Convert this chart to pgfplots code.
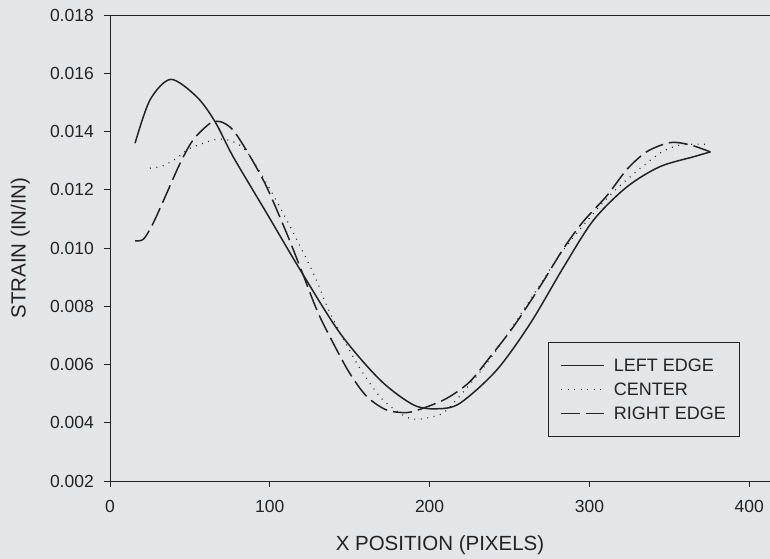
\documentclass[border=0pt]{standalone}
\usepackage{pgfplots}
\pgfplotsset{compat=1.18}
\usepackage{fontspec}
\setmainfont{Liberation Sans}
\usetikzlibrary{backgrounds}
\definecolor{bgcol}{RGB}{227,230,233}
\definecolor{ink}{RGB}{35,35,35}
\begin{document}
\begin{tikzpicture}[background rectangle/.style={fill=bgcol,draw=none}, show background rectangle, inner frame sep=0pt]
\begin{axis}[
  name=ax,
  width=660pt, height=466pt, scale only axis,
  xmin=0, xmax=413, ymin=0.002, ymax=0.018,
  axis lines*=left,
  axis line style={ink, line width=0.9pt},
  clip=false,
  xtick={0,100,200,300,400},
  ytick={0.002,0.004,0.006,0.008,0.010,0.012,0.014,0.016,0.018},
  scaled y ticks=false,
  yticklabel style={/pgf/number format/fixed, /pgf/number format/fixed zerofill, /pgf/number format/precision=3},
  /pgf/number format/assume math mode=true,
  tick align=outside, major tick length=6pt,
  tick style={ink, line width=0.9pt},
  minor tick num=0,
  xticklabel style={font=\fontsize{17.5}{20}\selectfont, anchor=north, inner sep=0pt, yshift=-13pt, text=ink},
  yticklabel style={font=\fontsize{17.5}{20}\selectfont, anchor=east, inner sep=0pt, xshift=-10pt, text=ink},
  xlabel={X POSITION (PIXELS)},
  ylabel={STRAIN (IN/IN)},
  xlabel style={font=\fontsize{20.5}{24}\selectfont, at={(axis description cs:0.5,-0.137)}, anchor=center, text=ink},
  ylabel style={font=\fontsize{20.5}{24}\selectfont, at={(axis description cs:-0.136,0.5)}, anchor=center, text=ink},
  legend style={at={(axis description cs:0.6636,0.2983)}, anchor=north west, draw=ink, line width=0.9pt, fill=none,
    font=\fontsize{18}{21}\selectfont, inner xsep=12pt, inner ysep=14pt, row sep=6pt, text=ink,
    /tikz/every odd column/.append style={column sep=7pt}},
  legend cell align=left,
  legend image code/.code={\draw[#1] (0pt,0pt) -- (43pt,0pt);},
]
\draw[ink, line width=0.9pt] (rel axis cs:0,1) -- (rel axis cs:1,1);
\addplot[ink, line width=1.5pt, smooth] coordinates {
(15.7,0.01360) (25,0.01508) (38,0.01579) (54.3,0.01519) (65.7,0.01434) (77,0.01314)
(98,0.0112) (119,0.00925) (144,0.00707) (169,0.00547) (190,0.00461)
(205,0.00448) (219,0.00467) (242,0.00581) (263,0.00741) (284,0.00936) (302.6,0.01096)
(323.5,0.0121) (344,0.01279) (365,0.01313) (375.7,0.0133)
};
\addlegendentry{LEFT EDGE}
\addplot[ink, line width=1.2pt, dash pattern=on 0.9pt off 5.6pt, smooth] coordinates {
(25,0.01274) (33,0.01282) (41.7,0.01308) (50,0.01342) (66.8,0.01373) (77,0.01365)
(85.6,0.01331) (98,0.01222) (110.6,0.01096) (127.3,0.00913) (137.8,0.00776) (154.5,0.00604)
(169,0.00489) (181.6,0.00432) (190,0.00412) (202.4,0.00421) (210.8,0.00444) (227.5,0.00547)
(242,0.0065) (263,0.00822) (284,0.00995) (309,0.01159) (325.6,0.01245) (344,0.01325)
(357,0.01354) (373.6,0.01356)
};
\addlegendentry{CENTER}
\addplot[ink, line width=1.5pt, dash pattern=on 19pt off 6pt, smooth] coordinates {
(15.7,0.01025) (20.9,0.0103) (27,0.01085) (35.5,0.01188) (43.8,0.0129) (52,0.01371)
(62.6,0.01428) (69,0.01434) (77,0.01405) (87.7,0.01314) (98,0.0121) (110.6,0.0105)
(120,0.0092) (130,0.0078) (140,0.0067) (150,0.0057) (160.7,0.0049) (173,0.00444)
(185.8,0.00435) (196,0.0045) (210.8,0.00484) (225,0.0054) (238,0.00627) (252.5,0.0073)
(269,0.00867) (284,0.0100) (296,0.0109) (311,0.0118) (323.5,0.0127) (336,0.01331)
(350.6,0.01362) (363,0.01354) (375.7,0.0133)
};
\addlegendentry{RIGHT EDGE}
\end{axis}
\pgfresetboundingbox
\path[use as bounding box] ([shift={(-110pt,-78pt)}]ax.south west) rectangle ([shift={(0pt,15pt)}]ax.north east);
\end{tikzpicture}
\end{document}
